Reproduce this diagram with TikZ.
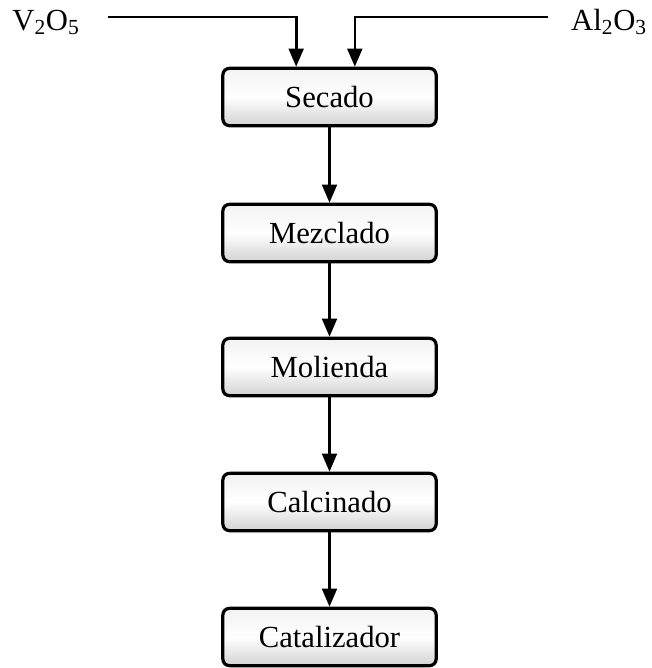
\documentclass[tikz,border=0pt]{standalone}
\usepackage{fontspec}
\setmainfont{Liberation Serif}
\usetikzlibrary{arrows.meta}
\begin{document}
\begin{tikzpicture}[x=0.75pt,y=-0.75pt,
  stepbox/.style={draw, line width=2.4pt, rounded corners=5pt,
    minimum width=160pt, minimum height=43pt, inner sep=0pt,
    top color=gray!10, bottom color=gray!35, middle color=white,
    font=\fontsize{23}{27}\selectfont},
  flow/.style={line width=2pt, -{Triangle[width=11pt,length=13.5pt]}},
  lbl/.style={font=\fontsize{23}{27}\selectfont, inner sep=0pt, anchor=base}]
\useasboundingbox (0,0) rectangle (652,668);
\node[stepbox] (secado) at (329.5,97) {Secado};
\node[stepbox] (mezclado) at (329.5,233) {Mezclado};
\node[stepbox] (molienda) at (329.5,367) {Molienda};
\node[stepbox] (calcinado) at (329.5,502) {Calcinado};
\node[stepbox] (catalizador) at (329.5,637) {Catalizador};
\node[lbl] (v2o5) at (46,30) {V\textsubscript{2}O\textsubscript{5}};
\node[lbl] (al2o3) at (609,30) {Al\textsubscript{2}O\textsubscript{3}};
\coordinate (vs) at (108,17);
\coordinate (as) at (548,17);
\draw[flow] (vs) -| ([xshift=-25pt]secado.north);
\draw[flow] (as) -| ([xshift=19pt]secado.north);
\draw[flow] (secado) -- (mezclado);
\draw[flow] (mezclado) -- (molienda);
\draw[flow] (molienda) -- (calcinado);
\draw[flow] (calcinado) -- (catalizador);
\end{tikzpicture}
\end{document}
